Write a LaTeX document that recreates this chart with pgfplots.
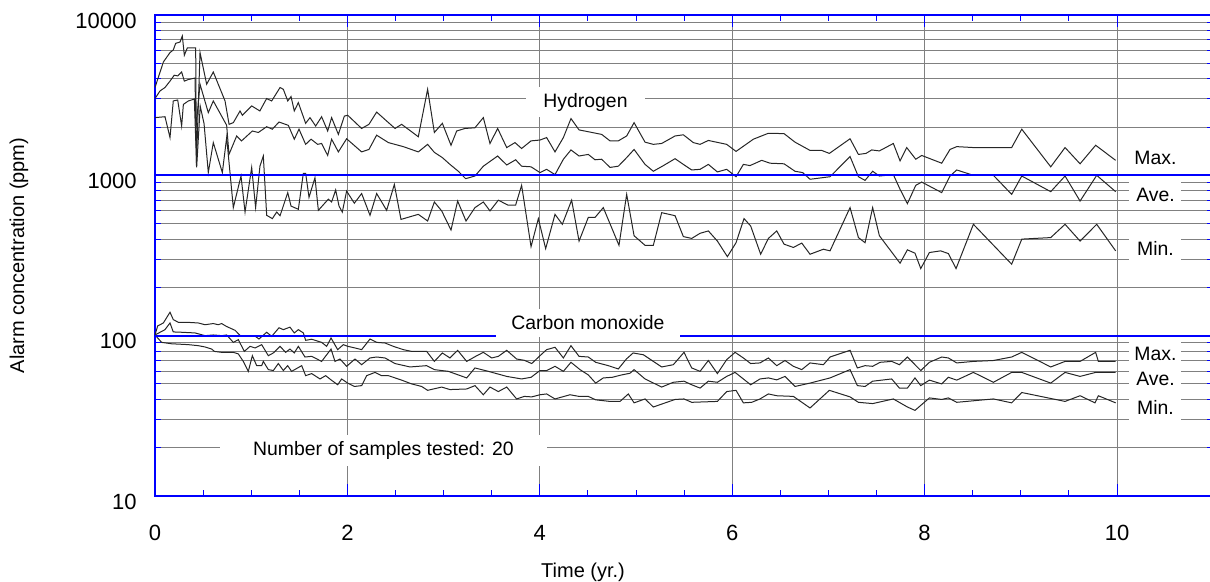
\documentclass[border=0pt]{standalone}
\usepackage{fontspec}
\setmainfont{Liberation Sans}
\usepackage{pgfplots}
\pgfplotsset{compat=1.18}

\definecolor{axblue}{RGB}{0,0,255}
\definecolor{gridgray}{RGB}{128,128,128}

\begin{document}
\begin{tikzpicture}
\tikzset{
  dline/.style={draw=black!85, line width=0.5pt, mark=none},
  lbl/.style={fill=white, inner sep=0pt, font=\fontsize{9.7}{11}\selectfont},
  side/.style={lbl, minimum width=26pt, minimum height=12pt}
}
\begin{axis}[
  at={(77.5pt,43pt)}, anchor=south west,
  scale only axis, width=529.1pt, height=240.5pt,
  xmin=0, xmax=11, ymin=10, ymax=10000, ymode=log,
  xtick={0,2,...,10}, xticklabels={0,2,4,6,8,10}, minor x tick num=3,
  ytick={10,100,1000,10000}, yticklabels={10,100,1000,10000},
  minor ytick={20,30,40,50,60,70,80,90,200,300,400,500,600,700,800,900,2000,3000,4000,5000,6000,7000,8000,9000},
  xmajorgrids, yminorgrids,
  major x grid style={draw=gridgray, line width=0.5pt},
  minor y grid style={draw=gridgray, line width=0.5pt},
  axis line style={draw=axblue, line width=0.7pt},
  tick style={draw=axblue, line width=0.5pt},
  major tick length=6pt, minor tick length=3pt,
  tick label style={font=\fontsize{11}{13}\selectfont},
  xticklabel style={anchor=center, yshift=-18.25pt},
  yticklabel style={anchor=east, inner sep=0pt, xshift=-9pt, yshift=-2.75pt},
  label style={font=\fontsize{8.2}{10}\selectfont},
  every axis x label/.style={at={(axis description cs:0.4045,-0.158)}, anchor=center},
  every axis y label/.style={at={(axis description cs:-0.1285,0.5)}, rotate=90, anchor=center},
  xlabel={Time (yr.)},
  ylabel={Alarm concentration (ppm)},
]

% Hydrogen, maximum
\addplot[dline] coordinates {
(0,3530)(0.087,5090)(0.156,5830)(0.19,6050)(0.215,6660)(0.26,6780)(0.284,7400)(0.305,5610)
(0.336,6230)(0.423,6230)(0.43,1150)(0.468,5830)(0.537,3700)(0.606,4410)(0.728,2910)(0.77,2080)
(0.814,2130)(0.884,2520)(0.908,2370)(1.005,2710)(1.09,2520)(1.16,3010)(1.213,2910)(1.30,3530)
(1.334,3440)(1.38,2910)(1.414,3100)(1.448,2520)(1.49,2840)(1.566,2110)(1.611,2290)(1.67,2030)
(1.732,2320)(1.795,1890)(1.836,2290)(1.906,1800)(1.968,2340)(2.003,2370)(2.148,1960)(2.224,2080)
(2.304,2480)(2.495,1960)(2.564,2080)(2.737,1740)(2.834,3440)(2.904,1850)(2.987,2110)(3.077,1540)
(3.136,1890)(3.222,1960)(3.326,1980)(3.413,2290)(3.482,1580)(3.562,1960)(3.656,1490)(3.742,1600)
(3.811,1470)(3.909,1640)(4.002,1660)(4.071,1720)(4.158,1400)(4.245,1720)(4.324,2260)(4.408,1920)
(4.643,1800)(4.73,1640)(4.816,1640)(4.903,1760)(4.98,2130)(5.094,1610)(5.18,1560)(5.267,1580)
(5.406,1760)(5.492,1790)(5.596,1600)(5.666,1560)(5.752,1650)(5.943,1560)(6.04,1410)(6.22,1680)
(6.376,1830)(6.539,1820)(6.653,1610)(6.809,1430)(6.93,1430)(7.01,1370)(7.225,1690)(7.312,1350)
(7.391,1370)(7.45,1440)(7.53,1420)(7.675,1580)(7.745,1230)(7.814,1490)(7.908,1260)(7.97,1330)
(8.178,1190)(8.264,1450)(8.334,1510)(8.507,1490)(8.905,1490)(9.01,1940)(9.311,1130)(9.46,1490)
(9.616,1180)(9.778,1540)(9.986,1240)
};

% Hydrogen, average
\addplot[dline] coordinates {
(0,3010)(0.052,3360)(0.104,3530)(0.156,3870)(0.2,4210)(0.236,4170)(0.277,4410)(0.305,3870)
(0.347,3960)(0.416,4040)(0.425,1940)(0.468,3700)(0.554,2460)(0.606,2910)(0.71,2240)(0.745,2050)
(0.769,1350)(0.849,1760)(0.90,1640)(1.012,1890)(1.074,1850)(1.161,2010)(1.22,1940)(1.289,2150)
(1.386,2050)(1.448,1680)(1.497,1940)(1.566,1560)(1.622,1680)(1.691,1560)(1.732,1580)(1.795,1330)
(1.836,1680)(1.906,1400)(1.992,1690)(2.148,1400)(2.224,1450)(2.304,1780)(2.426,1600)(2.581,1510)
(2.737,1400)(2.834,1560)(2.904,1390)(2.987,1290)(3.066,1170)(3.153,1060)(3.229,953)(3.326,990)
(3.413,1140)(3.562,1320)(3.656,1160)(3.749,1250)(3.811,1140)(3.909,1130)(4.002,1040)(4.071,1090)
(4.158,1010)(4.245,1260)(4.324,1440)(4.408,1320)(4.504,1350)(4.574,1250)(4.643,1260)(4.73,1120)
(4.816,1140)(4.903,1290)(4.98,1450)(5.094,1170)(5.18,1060)(5.285,1150)(5.406,1270)(5.492,1170)
(5.579,1080)(5.666,1090)(5.752,1170)(5.846,1050)(5.943,1090)(6.04,980)(6.116,1170)(6.185,1150)
(6.307,1240)(6.394,1190)(6.539,1180)(6.653,1060)(6.733,1040)(6.809,945)(7.017,980)(7.225,1310)
(7.312,980)(7.381,930)(7.46,1060)(7.53,990)(7.675,1010)(7.745,818)(7.821,666)(7.908,866)
(7.97,908)(8.178,780)(8.264,990)(8.334,1080)(8.507,1000)(8.715,1000)(8.905,761)(9.01,990)
(9.311,791)(9.46,990)(9.616,691)(9.789,1000)(9.986,791)
};

% Hydrogen, minimum
\addplot[dline] coordinates {
(0,2290)(0.104,2320)(0.156,1720)(0.19,2910)(0.236,2950)(0.277,2030)(0.295,2770)(0.347,2910)
(0.409,2990)(0.433,1120)(0.47,2700)(0.51,2100)(0.554,1040)(0.606,1600)(0.70,1040)(0.745,1720)
(0.814,629)(0.894,990)(0.936,590)(1.005,1120)(1.046,629)(1.091,1140)(1.126,1320)(1.161,563)
(1.22,537)(1.265,590)(1.30,560)(1.38,780)(1.414,643)(1.49,614)(1.542,1030)(1.566,1030)
(1.601,729)(1.663,967)(1.698,605)(1.802,710)(1.836,682)(1.878,810)(1.913,643)(1.947,590)
(1.992,798)(2.072,670)(2.148,770)(2.235,563)(2.304,770)(2.408,605)(2.488,877)(2.557,531)
(2.737,571)(2.834,519)(2.904,682)(2.98,600)(3.077,456)(3.146,691)(3.233,519)(3.326,629)
(3.413,682)(3.482,600)(3.569,700)(3.666,653)(3.749,653)(3.811,866)(3.909,359)(3.985,537)
(4.061,349)(4.158,571)(4.234,495)(4.331,700)(4.408,389)(4.504,546)(4.574,546)(4.66,629)
(4.823,366)(4.903,761)(4.98,420)(5.094,366)(5.18,366)(5.267,585)(5.406,560)(5.492,415)
(5.579,404)(5.666,435)(5.752,450)(5.846,389)(5.95,311)(6.04,380)(6.123,537)(6.192,483)
(6.296,322)(6.376,404)(6.463,450)(6.539,372)(6.636,355)(6.723,378)(6.809,322)(6.948,346)
(7.017,338)(7.225,629)(7.312,409)(7.381,380)(7.46,629)(7.53,420)(7.745,283)(7.821,343)
(7.9,327)(7.96,262)(8.05,330)(8.167,338)(8.247,325)(8.327,262)(8.507,495)(8.905,279)
(9.01,400)(9.311,409)(9.46,495)(9.616,389)(9.789,495)(9.986,338)
};

% Carbon monoxide, maximum
\addplot[dline] coordinates {
(0,101)(0.028,115)(0.087,120)(0.156,140)(0.19,126)(0.243,121)(0.347,121)(0.45,120)
(0.52,117)(0.606,119)(0.658,117)(0.693,119)(0.745,114)(0.832,108)(0.894,99)(0.97,100)
(1.033,100)(1.081,95.3)(1.161,105)(1.213,99)(1.289,112)(1.334,109)(1.403,113)(1.448,104)
(1.49,109)(1.542,104)(1.566,93.5)(1.629,95)(1.732,90.8)(1.784,85.8)(1.83,96.7)(1.899,81.8)
(1.958,87.9)(2.003,85.8)(2.079,83.8)(2.148,81.8)(2.235,95.3)(2.304,90.8)(2.391,90)(2.477,85.8)
(2.581,81.8)(2.668,79.8)(2.824,79.8)(2.904,69.1)(2.987,78)(3.066,72.6)(3.146,81)(3.24,69.1)
(3.333,74.3)(3.413,78.7)(3.50,72.6)(3.569,74.3)(3.656,81)(3.759,71.5)(3.839,70.2)(3.916,67)
(4.002,75)(4.071,81.8)(4.158,84.6)(4.245,72.6)(4.324,86.6)(4.408,74.3)(4.504,73.6)(4.581,68.2)
(4.712,65)(4.816,62)(4.90,71.5)(4.97,78)(5.077,76)(5.18,69.1)(5.267,63.8)(5.388,65.9)
(5.499,78.7)(5.579,62.9)(5.666,59.9)(5.752,70)(5.846,58)(5.943,70.9)(6.03,78.7)(6.116,72.6)
(6.192,67)(6.289,67.6)(6.376,72.6)(6.463,65)(6.549,70)(6.636,64.4)(6.723,61.4)(6.809,67.6)
(6.948,65.9)(7.017,73.6)(7.225,81)(7.301,62.9)(7.381,65)(7.46,64.4)(7.537,68.2)(7.658,69.1)
(7.738,65.9)(7.821,73.6)(7.96,60.6)(8.05,68.2)(8.178,73.6)(8.247,72.6)(8.334,67.6)(8.507,69.1)
(8.715,70)(8.905,73.6)(9.01,78.7)(9.311,63.8)(9.46,69.1)(9.616,69.1)(9.778,78.7)(9.806,69.1)
(9.986,69.1)
};

% Carbon monoxide, average
\addplot[dline] coordinates {
(0,101)(0.104,109)(0.156,120)(0.19,105.5)(0.277,105)(0.416,104)(0.52,100)(0.606,101)
(0.693,100)(0.745,101)(0.814,90.8)(0.866,94.4)(0.929,79.8)(0.988,85.8)(1.04,83.8)(1.109,87.9)
(1.178,75)(1.23,78)(1.30,85.8)(1.358,78.7)(1.403,82.5)(1.448,78)(1.49,85.8)(1.559,73.6)
(1.629,74.3)(1.732,69.1)(1.83,82.5)(1.871,69.1)(1.923,71.5)(1.992,64.4)(2.079,71.5)(2.148,65.9)
(2.235,72.6)(2.304,73.6)(2.391,72.6)(2.495,67)(2.651,63.8)(2.824,65)(2.904,61.4)(3.049,59.9)
(3.24,54.5)(3.326,62.9)(3.465,59.9)(3.656,55.7)(3.811,53.7)(3.909,55)(4.002,60.6)(4.071,60.6)
(4.158,64.4)(4.245,59.9)(4.324,68.2)(4.418,61.4)(4.504,56.9)(4.581,50.6)(4.66,54.5)(4.754,55)
(4.851,56.9)(4.938,58.3)(4.98,61.4)(5.094,53.7)(5.267,47.8)(5.388,51.2)(5.499,52)(5.579,49.4)
(5.666,47.1)(5.752,52)(5.846,51.2)(5.943,55.7)(6.03,59)(6.116,53.7)(6.192,49.4)(6.289,53.7)
(6.376,54.5)(6.463,53)(6.549,55.7)(6.653,48.2)(6.809,50.6)(7.017,54.5)(7.225,61.4)(7.301,48.8)
(7.381,48.2)(7.46,52)(7.658,53.7)(7.738,47.1)(7.821,47.1)(7.9,54.5)(7.96,48.8)(8.05,52.8)
(8.178,50)(8.247,55)(8.334,52.8)(8.507,59)(8.715,51.2)(8.905,59)(9.01,59)(9.311,50.6)
(9.46,59)(9.616,55.7)(9.778,59)(9.986,59)
};

% Carbon monoxide, minimum
\addplot[dline] coordinates {
(0,101)(0.069,90.8)(0.173,89)(0.347,87.9)(0.45,86.6)(0.52,85)(0.589,82.5)(0.617,79.8)
(0.693,78.7)(0.814,78.7)(0.866,77)(0.918,69.1)(0.97,59.9)(1.012,75)(1.057,65)(1.109,65)
(1.126,69.1)(1.178,61.4)(1.23,60.6)(1.282,67)(1.334,60.6)(1.379,65)(1.42,59.9)(1.525,65)
(1.566,56.3)(1.629,58)(1.715,53.7)(1.774,56.3)(1.83,53)(1.899,49.4)(1.94,53.7)(2.003,50.6)
(2.072,48.2)(2.148,48.8)(2.20,56.3)(2.287,59)(2.356,56.3)(2.426,56.3)(2.564,52.8)(2.668,50)
(2.772,48.2)(2.834,45.6)(2.98,47.8)(3.066,46.1)(3.24,46.5)(3.326,48.8)(3.413,42.8)(3.482,47.8)
(3.569,44.8)(3.656,47.8)(3.759,40.3)(3.839,41.8)(3.916,41.5)(4.002,42.8)(4.071,43.3)(4.158,40.3)
(4.314,42.8)(4.408,41.8)(4.504,41.8)(4.581,39.8)(4.73,38.9)(4.834,38.9)(4.92,43.3)(4.98,38.1)
(5.094,40.3)(5.18,35.9)(5.406,40)(5.499,40.3)(5.579,38.4)(5.846,38.9)(5.943,44.8)(6.04,45.6)
(6.116,38.1)(6.203,38.4)(6.289,40.3)(6.376,43.3)(6.463,42.2)(6.636,41.8)(6.809,35.4)(7.01,45.6)
(7.225,41.5)(7.312,38.4)(7.46,37.7)(7.675,40.3)(7.821,35.9)(7.9,34.2)(8.05,40.9)(8.178,40)
(8.247,40.9)(8.334,38.4)(8.715,40.3)(8.905,38.1)(9.01,44.2)(9.46,38.9)(9.616,42.2)(9.771,38.1)
(9.806,42.2)(9.986,38.1)
};

% blue decade lines
\draw[draw=axblue, line width=0.9pt] (axis cs:0,100) -- (axis cs:11,100);
\draw[draw=axblue, line width=0.9pt] (axis cs:0,1000) -- (axis cs:11,1000);

% labels on white boxes
\node[lbl, minimum width=59.5pt, minimum height=15pt] at (axis cs:4.475,2850) {Hydrogen};
\node[lbl, minimum width=92pt, minimum height=14pt] at (axis cs:4.50,120) {Carbon monoxide};
\node[lbl, minimum width=163.5pt, minimum height=15.5pt] at (axis cs:2.375,19.1) {Number of samples tested: 20};
\node[side] at (axis cs:10.40,1280) {Max.};
\node[side] at (axis cs:10.40,760) {Ave.};
\node[side] at (axis cs:10.40,350) {Min.};
\node[side] at (axis cs:10.40,77) {Max.};
\node[side] at (axis cs:10.40,54) {Ave.};
\node[side] at (axis cs:10.40,35.6) {Min.};
\end{axis}
\pgfresetboundingbox
\path[use as bounding box] (0,0) rectangle (605pt,291pt);
\end{tikzpicture}
\end{document}
